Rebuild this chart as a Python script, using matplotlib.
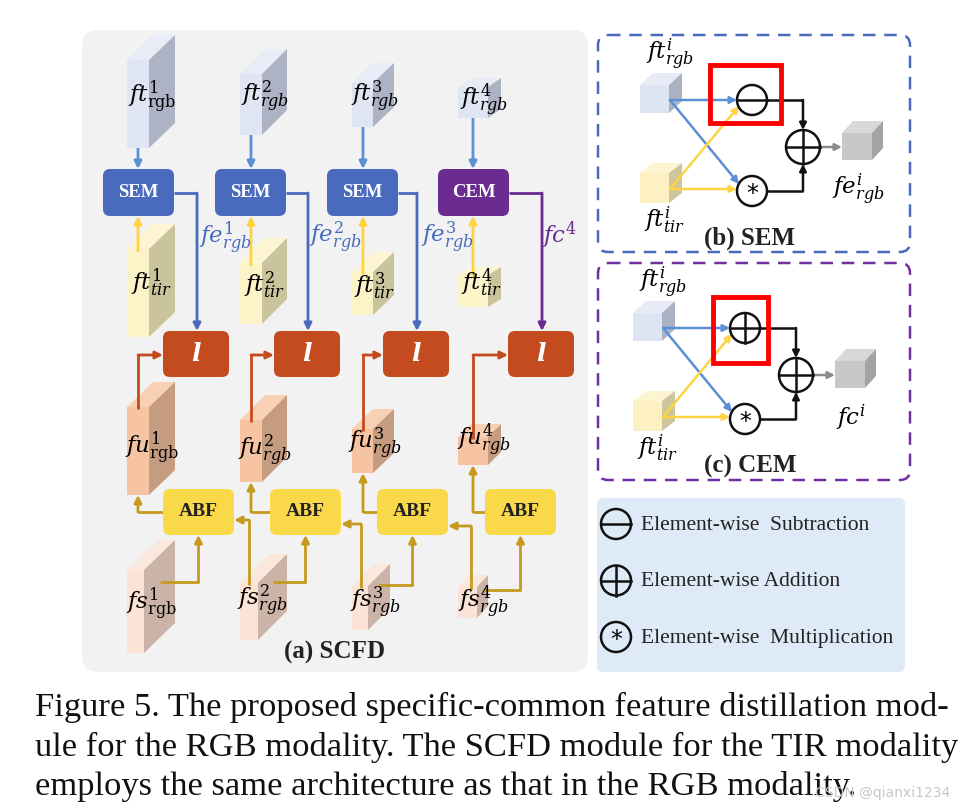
import matplotlib
matplotlib.use('Agg')
import matplotlib.pyplot as plt
from matplotlib.patches import FancyBboxPatch, Polygon, Circle, Rectangle

plt.rcParams['mathtext.fontset'] = 'dejavuserif'
SERIF = 'Liberation Serif'

# ---- content ----
stages = [1, 2, 3, 4]
top_blocks = ['SEM', 'SEM', 'SEM', 'CEM']
rgb_sub = [r'\mathrm{rgb}', 'rgb', 'rgb', 'rgb']
edge_labels = [r'$fe^{1}_{rgb}$', r'$fe^{2}_{rgb}$', r'$fe^{3}_{rgb}$', r'$fc^{4}$']
legend_items = ['Element-wise  Subtraction', 'Element-wise Addition', 'Element-wise  Multiplication']
legend_ops = ['minus', 'plus', 'star']
caption = ['Figure 5. The proposed specific-common feature distillation mod-',
           'ule for the RGB modality. The SCFD module for the TIR modality',
           'employs the same architecture as that in the RGB modality.']

# ---- layout (pixels) ----
# cube: front-x, front-top-y, front-w, front-h, depth-x, depth-y
ft_rgb_cubes = [(127, 60, 22, 88, 26, 25), (240, 74, 22, 61, 25, 25),
                (352, 83, 21, 44, 21, 20), (458, 87, 30, 31, 13, 9)]
ft_tir_cubes = [(127, 249, 22, 88, 26, 25), (239, 263, 23, 61, 25, 25),
                (352, 272, 21, 43, 21, 20), (458, 275, 30, 32, 13, 8)]
fu_cubes = [(127, 407, 22, 88, 26, 25), (240, 420, 22, 62, 25, 25),
            (352, 429, 21, 44, 21, 20), (458, 437, 30, 28, 13, 13)]
fs_cubes = [(127, 570, 17, 83, 31, 30), (240, 583, 18, 57, 29, 29),
            (352, 586, 16, 44, 22, 22), (458, 587, 19, 31, 11, 12)]
col_x = [138, 251, 363, 473]
sem_x = [103, 215, 327, 438]
fe_x = [197, 308, 417, 542]
l_x = [163, 274, 383, 508]
abf_x = [163, 270, 377, 485]
fs_out_y = [582, 582, 585, 590]
fs_prev_y = [None, 520, 524, 526]
ft_rgb_lab = [(152, 97), (265, 97), (375, 97), (484, 100)]
ft_tir_lab = [(152, 283), (265, 285), (375, 286), (482, 283)]
fu_lab = [(152, 448), (265, 451), (375, 444), (484, 440)]
fs_lab = [(152, 604), (262, 601), (375, 603), (483, 602)]
fe_lab = [(225, 238), (335, 238), (447, 238), (560, 235)]

C_BLUE_BOX = '#4a6bbd'
C_PURPLE = '#6a2c91'
C_L = '#c44b1f'
C_ABF = '#f9d849'
C_GOLD = '#c59a1f'
C_ARROW_BLUE = '#5b8fd6'
C_YELLOW = '#fdd443'
LAB = 16.5

fig = plt.figure(figsize=(9.74, 8.08), dpi=100)
ax = fig.add_axes([0, 0, 1, 1])
ax.set_xlim(0, 974)
ax.set_ylim(808, 0)
ax.axis('off')


def cube(c, front, side, top, z=3):
    x, y, w, h, dx, dy = c
    ax.add_patch(Polygon([(x, y), (x + w, y), (x + w + dx, y - dy), (x + dx, y - dy)],
                         closed=True, fc=top, ec='none', zorder=z))
    ax.add_patch(Polygon([(x + w, y), (x + w + dx, y - dy), (x + w + dx, y + h - dy), (x + w, y + h)],
                         closed=True, fc=side, ec='none', zorder=z))
    ax.add_patch(Rectangle((x, y), w, h, fc=front, ec='none', zorder=z))


def box(x, y, w, h, color, text, tcolor='white', size=13.5, italic=False, r=7):
    ax.add_patch(FancyBboxPatch((x, y), w, h, boxstyle='round,pad=0,rounding_size=%d' % r,
                                fc=color, ec='none', zorder=4))
    if italic:
        ax.text(x + w / 2, y + h / 2, text, color=tcolor, fontsize=size, ha='center', va='center', zorder=5)
    else:
        ax.text(x + w / 2, y + h / 2, text, color=tcolor, fontsize=size, ha='center', va='center',
                family=SERIF, weight='bold', zorder=5)


def arrow(pts, color, lw=2.0, ms=11, z=2):
    if len(pts) > 2:
        xs, ys = zip(*pts[:-1])
        ax.plot(xs, ys, color=color, lw=lw, solid_joinstyle='miter', solid_capstyle='butt', zorder=z)
    ax.annotate('', xy=pts[-1], xytext=pts[-2],
                arrowprops=dict(arrowstyle='-|>', color=color, lw=lw, mutation_scale=ms,
                                shrinkA=0, shrinkB=0), zorder=z)


def op(cx, cy, r, kind, lw=1.8, fc='none'):
    ax.add_patch(Circle((cx, cy), r, fc=fc, ec='#111111', lw=lw, zorder=6))
    if kind in ('minus', 'plus'):
        ax.plot([cx - r, cx + r], [cy, cy], color='#111111', lw=lw, zorder=6)
    if kind == 'plus':
        ax.plot([cx, cx], [cy - r, cy + r], color='#111111', lw=lw, zorder=6)
    if kind == 'star':
        ax.text(cx, cy + 3, '*', fontsize=17, ha='center', va='center', family='DejaVu Sans', zorder=6)


# ---- panel (a) ----
ax.add_patch(FancyBboxPatch((82, 30), 506, 642, boxstyle='round,pad=0,rounding_size=16',
                            fc='#f2f2f2', ec='none', zorder=0))

for i, k in enumerate(stages):
    cube(ft_rgb_cubes[i], '#dfe5f3', '#adb3c4', '#e8ecf7')
    cube(ft_tir_cubes[i], '#fdf3c8', '#c9c49b', '#fdf5d4')
    cube(fu_cubes[i], '#f6c4a2', '#c69c80', '#f8d0b4')
    cube(fs_cubes[i], '#fbe4d6', '#cbb4a7', '#fbe8dd')

    # text on cubes
    sub = rgb_sub[i]
    ax.text(*ft_rgb_lab[i], r'$ft^{%d}_{%s}$' % (k, sub), fontsize=LAB, ha='center', va='center', zorder=7)
    ax.text(*ft_tir_lab[i], r'$ft^{%d}_{tir}$' % k, fontsize=LAB, ha='center', va='center', zorder=7)
    ax.text(*fu_lab[i], r'$fu^{%d}_{%s}$' % (k, sub), fontsize=LAB, ha='center', va='center', zorder=7)
    ax.text(*fs_lab[i], r'$fs^{%d}_{%s}$' % (k, sub), fontsize=LAB, ha='center', va='center', zorder=7)

    # top block
    tcol = C_BLUE_BOX if top_blocks[i] == 'SEM' else C_PURPLE
    box(sem_x[i], 169, 71, 47, tcol, top_blocks[i])
    c = ft_rgb_cubes[i]
    arrow([(col_x[i], c[1] + c[3]), (col_x[i], 169)], C_ARROW_BLUE)
    c = ft_tir_cubes[i]
    arrow([(col_x[i], c[1] + 2), (col_x[i], 216)], C_YELLOW, z=5)
    arrow([(sem_x[i] + 71, 193), (fe_x[i], 193), (fe_x[i], 331)], tcol)
    ax.text(*fe_lab[i], edge_labels[i], color=tcol, fontsize=LAB, ha='center', va='center', zorder=7)

    # l block
    box(l_x[i], 331, 66, 46, C_L, r'$\boldsymbol{l}$', size=18, italic=True)
    c = fu_cubes[i]
    arrow([(col_x[i], c[1] + 2), (col_x[i], 355), (l_x[i], 355)], C_L, z=5)

    # ABF
    box(abf_x[i], 489, 71, 46, C_ABF, 'ABF', tcolor='#222222', size=14)
    c = fu_cubes[i]
    arrow([(abf_x[i], 512), (col_x[i], 512), (col_x[i], c[1] + c[3])], C_GOLD)
    c = fs_cubes[i]
    cx = abf_x[i] + 35.5
    arrow([(c[0] + c[2] + c[4] / 2, fs_out_y[i]), (cx, fs_out_y[i]), (cx, 535)], C_GOLD, z=4)
    if i > 0:
        arrow([(col_x[i] - 2, c[1] + 2), (col_x[i] - 2, fs_prev_y[i]), (abf_x[i - 1] + 71, fs_prev_y[i])],
              C_GOLD, z=5)

ax.text(335, 652, '(a) SCFD', fontsize=18, family=SERIF, weight='bold', ha='center', va='center',
        color='#222222')


# ---- panels (b) and (c) ----
def module(y0, top_op, edge, title, out_lab, dx, red):
    # y0 shifts the whole module; dx shifts horizontally
    blue = (640 + dx, 85 + y0, 29, 28, 13, 12)
    yel = (640 + dx, 173 + y0, 29, 30, 13, 10)
    cube(blue, '#dde4f3', '#aab2c4', '#e6ebf6')
    cube(yel, '#fdf1c4', '#cdc69c', '#fdf4d2')
    ox = 752 + dx
    top_y, bot_y = 100 + y0, 191 + y0
    px, py = 803 + dx, 147 + y0
    sx = 670 + dx
    arrow([(sx, top_y), (ox - 15, top_y)], C_ARROW_BLUE, lw=1.8, ms=10, z=3)
    arrow([(sx, top_y), (ox - 13, bot_y - 7)], C_ARROW_BLUE, lw=1.8, ms=10, z=3)
    arrow([(sx, bot_y - 2), (ox - 15, bot_y - 2)], C_YELLOW, lw=1.8, ms=10, z=3)
    arrow([(sx, bot_y - 2), (ox - 13, top_y + 6)], C_YELLOW, lw=1.8, ms=10, z=4)
    op(ox, top_y, 15, top_op)
    op(ox, bot_y, 15, 'star')
    op(px, py, 17, 'plus')
    arrow([(ox + 15, top_y), (px, top_y), (px, py - 17)], '#111111', lw=1.8, ms=10, z=5)
    arrow([(ox + 15, bot_y), (px, bot_y), (px, py + 17)], '#111111', lw=1.8, ms=10, z=5)
    arrow([(px + 17, py), (px + 39, py)], '#8c8c8c', lw=1.8, ms=10, z=5)
    cube((px + 39, py - 14, 30, 27, 11, 12), '#c8c8c8', '#a3a3a3', '#d8d8d8')
    rl, rr, rt, rb = red
    ax.add_patch(Rectangle((ox - rl, top_y - rt), rl + rr, rt + rb, fc='none', ec='#ff0000', lw=3.5, zorder=7))
    ax.add_patch(FancyBboxPatch((598, y0 + 35), 312, 217, boxstyle='round,pad=0,rounding_size=10',
                                fc='none', ec=edge, lw=1.8, ls=(0, (5, 3.5)), zorder=1))
    ax.text(670 + dx, 55 + y0, r'$ft^{i}_{rgb}$', fontsize=LAB, ha='center', va='center')
    ax.text(665 + dx, 220 + y0, r'$ft^{i}_{tir}$', fontsize=LAB, ha='center', va='center')
    ax.text(px + 55, 190 + y0, out_lab, fontsize=LAB, ha='center', va='center')
    ax.text(750, 238 + y0, title, fontsize=18, family=SERIF, weight='bold', ha='center', va='center',
            color='#222222')


module(0, 'minus', C_BLUE_BOX, '(b) SEM', r'$fe^{i}_{rgb}$', 0, (42, 29, 35, 23))
module(228, 'plus', '#7030a0', '(c) CEM', r'$fc^{i}$', -7, (32, 23, 31, 35))

# ---- legend panel ----
ax.add_patch(FancyBboxPatch((597, 498), 308, 174, boxstyle='round,pad=0,rounding_size=6',
                            fc='#deeaf7', ec='none', zorder=0))
for j, (kind, lab) in enumerate(zip(legend_ops, legend_items)):
    ly = 524 + j * 56.5
    op(616, ly, 15, kind)
    ax.text(641, ly + 1, lab, fontsize=15.5, family=SERIF, ha='left', va='center', color='#222222')

# ---- caption ----
for j, line in enumerate(caption):
    ax.text(35, 707 + j * 40, line, fontsize=24.8, family=SERIF, ha='left', va='center', color='#111111')

ax.text(815, 793, 'CSDN @qianxi1234', fontsize=10, color='#c8c8c8', ha='left', va='center', zorder=9)

fig.savefig('out.png', dpi=100)
